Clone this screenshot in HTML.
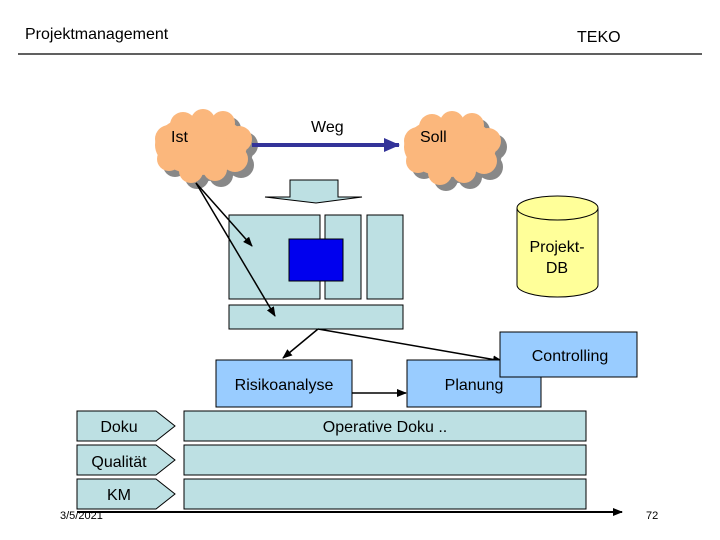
<!DOCTYPE html>
<html><head><meta charset="utf-8"><style>
html,body{margin:0;padding:0;background:#fff;width:720px;height:540px;overflow:hidden}
svg{display:block}
text{font-family:"Liberation Sans",Arial,sans-serif;fill:#000}
</style></head><body>
<svg width="720" height="540" viewBox="0 0 720 540" xmlns="http://www.w3.org/2000/svg">
<defs>
<marker id="ah" markerWidth="10" markerHeight="8" refX="9" refY="4" orient="auto" markerUnits="userSpaceOnUse"><path d="M0,0 L10,4 L0,8 z" fill="#000"/></marker>
<marker id="ahb" markerWidth="16" markerHeight="14" refX="15" refY="7" orient="auto" markerUnits="userSpaceOnUse"><path d="M0,0 L16,7 L0,14 z" fill="#333399"/></marker>
<g id="cloud">
<ellipse cx="50" cy="36" rx="46" ry="30"/>
<circle cx="18" cy="30" r="14"/><circle cx="32" cy="16" r="13"/><circle cx="52" cy="12" r="12"/><circle cx="72" cy="14" r="12"/>
<circle cx="88" cy="30" r="13"/><circle cx="84" cy="50" r="13"/><circle cx="64" cy="60" r="12"/><circle cx="40" cy="62" r="12"/><circle cx="18" cy="50" r="12"/>
</g>
</defs>
<text x="25" y="39" font-size="16">Projektmanagement</text>
<text x="577" y="42" font-size="16">TEKO</text>
<line x1="18" y1="54" x2="702" y2="54" stroke="#000" stroke-width="1.2"/>

<g transform="translate(157,115)" fill="#888"><use href="#cloud"/></g>
<g transform="translate(151,109)" fill="#fbb77c"><use href="#cloud"/></g>
<text x="171" y="142" font-size="16">Ist</text>
<g transform="translate(406,117)" fill="#888"><use href="#cloud"/></g>
<g transform="translate(400,111)" fill="#fbb77c"><use href="#cloud"/></g>
<text x="420" y="142" font-size="16">Soll</text>

<line x1="252" y1="145" x2="399" y2="145" stroke="#333399" stroke-width="4" marker-end="url(#ahb)"/>
<text x="311" y="132" font-size="16">Weg</text>

<path d="M290,180 H338 V197 H362 L316,203 L265,197 H290 Z" fill="#bde0e3" stroke="#000" stroke-width="1"/>

<rect x="229" y="215" width="91" height="84" fill="#bde0e3" stroke="#000"/>
<rect x="325" y="215" width="36" height="84" fill="#bde0e3" stroke="#000"/>
<rect x="367" y="215" width="36" height="84" fill="#bde0e3" stroke="#000"/>
<rect x="289" y="239" width="54" height="42" fill="#0000ee" stroke="#000"/>
<rect x="229" y="305" width="174" height="24" fill="#bde0e3" stroke="#000"/>

<line x1="196" y1="183" x2="252" y2="246" stroke="#000" stroke-width="1.5" marker-end="url(#ah)"/>
<line x1="196" y1="183" x2="275" y2="316" stroke="#000" stroke-width="1.5" marker-end="url(#ah)"/>

<path d="M517,208 V285 A40.5,12 0 0 0 598,285 V208" fill="#ffff99" stroke="#000"/>
<ellipse cx="557.5" cy="208" rx="40.5" ry="12" fill="#ffff99" stroke="#000"/>
<text x="557" y="252" font-size="16" text-anchor="middle">Projekt-</text>
<text x="557" y="273" font-size="16" text-anchor="middle">DB</text>

<line x1="318" y1="329" x2="283" y2="358" stroke="#000" stroke-width="1.5" marker-end="url(#ah)"/>
<line x1="318" y1="329" x2="502" y2="361" stroke="#000" stroke-width="1.5" marker-end="url(#ah)"/>

<rect x="216" y="360" width="136" height="47" fill="#99ccff" stroke="#000"/>
<text x="284" y="390" font-size="16" text-anchor="middle">Risikoanalyse</text>
<rect x="407" y="360" width="134" height="47" fill="#99ccff" stroke="#000"/>
<text x="474" y="390" font-size="16" text-anchor="middle">Planung</text>
<line x1="352" y1="393" x2="406" y2="393" stroke="#000" stroke-width="1.5" marker-end="url(#ah)"/>
<rect x="500" y="332" width="137" height="45" fill="#99ccff" stroke="#000"/>
<text x="570" y="361" font-size="16" text-anchor="middle">Controlling</text>

<path d="M77,411 H156 L175,426 L156,441 H77 Z" fill="#bde0e3" stroke="#000"/>
<text x="119" y="432" font-size="16" text-anchor="middle">Doku</text>
<rect x="184" y="411" width="402" height="30" fill="#bde0e3" stroke="#000"/>
<text x="385" y="432" font-size="16" text-anchor="middle">Operative Doku ..</text>
<path d="M77,445 H156 L175,460 L156,475 H77 Z" fill="#bde0e3" stroke="#000"/>
<text x="119" y="467" font-size="16" text-anchor="middle">Qualität</text>
<rect x="184" y="445" width="402" height="30" fill="#bde0e3" stroke="#000"/>
<path d="M77,479 H156 L175,494 L156,509 H77 Z" fill="#bde0e3" stroke="#000"/>
<text x="119" y="500" font-size="16" text-anchor="middle">KM</text>
<rect x="184" y="479" width="402" height="30" fill="#bde0e3" stroke="#000"/>

<line x1="77" y1="512" x2="622" y2="512" stroke="#000" stroke-width="2" marker-end="url(#ah)"/>
<text x="60" y="519" font-size="11">3/5/2021</text>
<text x="646" y="519" font-size="11">72</text>
</svg>
</body></html>
